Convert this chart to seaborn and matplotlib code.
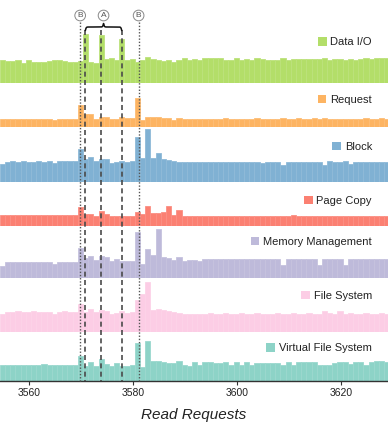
import numpy as np
import pandas as pd
import matplotlib
matplotlib.use("Agg")
import matplotlib.pyplot as plt
from matplotlib.patches import Patch
from matplotlib.colors import to_rgb
import seaborn as sns

# ---------------- data ----------------
series_names = ["Data I/O", "Request", "Block", "Page Copy",
                "Memory Management", "File System", "Virtual File System"]
series_colors = ["#b3de69", "#fdb462", "#80b1d3", "#fb8072",
                 "#bebada", "#fccde5", "#8dd3c7"]

bin_start = 3554.38          # left edge of first bin
n_bins = 75

data_io = [23.3, 22, 22, 23, 20.7, 23, 21, 21, 21, 22, 23.3, 23.3, 22, 21.7, 21.3,
           22.7, 49.3, 21, 20.3, 48.7, 24, 25, 23.7, 44.3, 23.3, 24.3, 21.3, 23.7, 26.3,
           24.7, 23, 22.3, 23.7, 21.7, 23, 25.3, 23.3, 24.3, 23.3,
           25.3, 25, 25.3, 25, 23.3, 23.3, 25, 23.3, 24.7, 23.3, 25.3, 24, 23, 23, 23.3,
           25.3, 23.3, 24, 24.3, 24.7, 24.3, 24, 24.3, 25.3, 23, 24, 24, 23.3, 24.7, 23,
           24, 25, 24.7, 25, 25.3, 25]
request = [7.3, 7.7, 7.7, 7.3, 7.7, 7.7, 7.3, 7.3, 7.7, 8, 7, 8, 7.7, 8, 7.7,
           21.3, 12.3, 12.7, 7.7, 10, 10, 7.7, 7.7, 9.3, 8.3, 8.3, 28.7, 6.7, 9.3, 10,
           9.7, 9, 8.3, 7, 8.3, 8, 7.7, 7.3, 7.7,
           7.7, 8, 7.7, 7.7, 8.3, 7.7, 8, 7.3, 8, 7.7, 8.3, 8, 7.7, 8, 7.7, 8.3, 7.3, 8,
           8.7, 8, 7.7, 8.3, 8, 8.7, 8, 7.7, 7.7, 8, 7.3, 8, 7.7, 8.3, 7.7, 8, 8.3, 7.7]
block = [17.7, 20, 20.3, 20, 20.3, 20, 20, 20.3, 20, 20.3, 18.3, 20.3, 20.7, 20.3, 20.3,
         32.7, 22.7, 24.7, 20.3, 22.7, 22.7, 19, 19.7, 20.3, 19.3, 20.7, 44.3, 24, 52.7,
         24, 28.3, 22.3, 21.7, 20.7, 19.7, 19.3, 20, 19.7, 19.3,
         19.3, 19.7, 19.7, 19.3, 19.7, 19.3, 19.3, 19.7, 19.3, 19.7, 19.3, 19, 19.3, 19.7,
         19.3, 16.7, 19.3, 19.7, 19.3, 19.3, 19.7, 19.3, 19.3, 17, 20.7, 19.3, 19.3, 20.7,
         17.7, 19.3, 19.7, 19.3, 19.7, 19.3, 19.3, 19.3]
page_copy = [10.7, 10.7, 11, 10.7, 11.3, 10.7, 10.7, 11, 10.7, 11, 10.7, 11, 10.7, 10.7, 11,
             19, 11.7, 11.7, 9.7, 15, 11.7, 10, 9.7, 9.7, 9.7, 9.7, 14.3, 12.2, 20, 13.3,
             13.3, 14, 20, 11.2, 16, 10.2, 10, 10, 10,
             10, 10.3, 10, 10, 10.3, 10, 10, 10.3, 10, 10, 10.3, 10, 10, 10.3, 10, 10, 10,
             11.3, 10.3, 10, 10, 10.3, 10, 10, 10.3, 10, 10, 10.3, 10, 10.3, 10, 10, 10.3,
             10, 10, 10.3]
memory = [12, 15.3, 15.3, 15.7, 15.3, 15.7, 15.3, 15.3, 15.7, 15.3, 13.7, 15.3, 15.3, 15.7,
          15.3, 29.3, 20, 21.7, 17.3, 21.7, 20.7, 16.3, 18.3, 16.3, 16.3, 17, 45.7, 13.3,
          28.7, 22.7, 48.7, 20.3, 19.7, 18, 20.7, 16.3, 17.7, 18, 16.3,
          18.3, 18.7, 19, 19, 18.7, 18.3, 18.7, 19, 18.3, 18.7, 19, 18.7, 18.3, 18.7, 18.7,
          12.7, 18.7, 19, 18.7, 18.3, 18.7, 18.7, 13, 19, 18.7, 18.3, 19, 13, 18.7, 18.7,
          19, 18.3, 18.7, 18.7, 19, 18.7]
file_system = [17.3, 20, 20, 20.3, 20, 20, 20.3, 20, 20, 20, 18, 20, 20.3, 20, 20,
               27.3, 20, 23, 19.3, 22, 20.3, 17.3, 19, 20.7, 19, 20, 31.3, 38, 49.3, 21.3,
               23, 22, 20.3, 20, 18.7, 18, 18, 18, 18,
               18, 18.3, 18, 18, 18.3, 18, 18, 18.3, 18, 18, 18.3, 18, 18, 18, 18.3, 17.7,
               18, 18.3, 18, 18, 18.3, 18, 17.7, 21, 18.3, 18, 21, 18, 18.3, 18, 18, 18.3,
               18, 18, 18.3, 18]
vfs = [16, 15.7, 15.7, 15.7, 15.7, 15.7, 15.7, 15.7, 17, 16.3, 15.7, 15.7, 15.7, 15.7, 15.7,
       25, 15, 19, 14.7, 21.7, 17.3, 14.7, 18.3, 15, 15, 15.7, 37.7, 14.3, 40, 19.7, 20,
       18.7, 17.7, 18, 20, 15.7, 15, 18.7, 15.7,
       18.7, 18.7, 18.3, 18.3, 18.7, 15.7, 18.7, 15.7, 18.7, 15.7, 18.3, 18.3, 18.3, 18.3,
       18.3, 15.7, 18.7, 15.7, 18.7, 18.7, 18.7, 18.7, 15.7, 15.7, 15.7, 17.7, 19.3, 19.3,
       17.3, 18.7, 18.7, 15.7, 18.7, 20, 19.7, 19]
series_values = [data_io, request, block, page_copy, memory, file_system, vfs]

x_ticks = [3560, 3580, 3600, 3620]
x_limits = (3554.42, 3629.1)
x_label = "Read Requests"

# event annotations
b_events = [3569.85, 3581.1]
a_events = [3570.85, 3573.85, 3577.85]

# ---------------- layout (pixels) ----------------
W, H = 388, 424
row_baselines = [83.3, 126.7, 181.7, 226.0, 277.7, 331.7, 381.0]
label_y = [42.3, 100.0, 146.7, 200.7, 241.7, 295.7, 348.3]
row_h = 60

sns.set_style("white")
plt.rcParams["font.family"] = ["Liberation Sans", "DejaVu Sans"]

fig = plt.figure(figsize=(W / 100, H / 100), dpi=100)

bin_end = bin_start + n_bins
centers = bin_start + 0.5 + np.arange(n_bins)


def lighten(c, f=0.12):
    r = np.array(to_rgb(c))
    return tuple(r + (1 - r) * f)


for k, (name, col, vals) in enumerate(zip(series_names, series_colors, series_values)):
    assert len(vals) == n_bins, (name, len(vals))
    yb = row_baselines[k]
    ax = fig.add_axes([0, (H - yb) / H, 1, row_h / H])
    ax.patch.set_alpha(0)
    df = pd.DataFrame({"request": centers, "value": vals})
    sns.histplot(data=df, x="request", weights="value", binwidth=1,
                 binrange=(bin_start, bin_end), ax=ax,
                 color=col, alpha=1, edgecolor=lighten(col), linewidth=0.6)
    ax.set_xlim(*x_limits)
    ax.set_ylim(0, row_h)
    ax.set_ylabel("")
    ax.set_yticks([])
    for s in ["left", "right", "top"]:
        ax.spines[s].set_visible(False)
    if k == len(series_names) - 1:
        ax.spines["bottom"].set_visible(True)
        ax.spines["bottom"].set_color("#333333")
        ax.spines["bottom"].set_linewidth(1.0)
        ax.set_xticks(x_ticks)
        ax.tick_params(axis="x", bottom=True, length=3, width=0.8, color="#333333",
                       labelsize=7.5, labelcolor="#222222", pad=2)
        ax.set_xlabel(x_label, fontsize=11, style="italic", color="#222222", labelpad=7)
    else:
        ax.spines["bottom"].set_visible(False)
        ax.set_xticks([])
        ax.set_xlabel("")
    ax.legend(handles=[Patch(facecolor=col, edgecolor="none", label=name)],
              loc="center right", bbox_to_anchor=(372 / W, 1 - label_y[k] / H),
              bbox_transform=fig.transFigure, frameon=False, fontsize=8,
              handlelength=0.8, handleheight=0.8, handletextpad=0.35,
              borderpad=0, borderaxespad=0, labelcolor="#222222")

# ---------------- annotation overlay ----------------
ov = fig.add_axes([0, 0, 1, 1])
ov.set_xlim(*x_limits)
ov.set_ylim(H, 0)
ov.axis("off")
ov.patch.set_alpha(0)

circ = dict(boxstyle="circle,pad=0.22", fc="white", ec="#888888", lw=0.7)
for xv in b_events:
    ov.vlines(xv, 21.5, 381, colors="#555555", linestyles=(0, (1, 1.3)), linewidth=1.0)
    ov.text(xv, 15.5, "B", ha="center", va="center", fontsize=6, color="#555555",
            bbox=circ)
for xv in a_events:
    ov.vlines(xv, 30, 381, colors="#4a4a4a", linestyles=(0, (3, 2)), linewidth=1.2)

# curly brace over the A events
x0, x1 = a_events[0], a_events[-1]
xs = np.linspace(x0, x1, 201)
half = xs[:101]
beta = 12.0
yh = 1 / (1 + np.exp(-beta * (half - half[0]))) + 1 / (1 + np.exp(-beta * (half - half[-1])))
yfull = np.concatenate((yh, yh[-2::-1]))
ybr = 30.5 - (yfull - yfull.min()) / (yfull.max() - yfull.min()) * 7.0
ov.plot(xs, ybr, color="#111111", lw=1.1, solid_capstyle="round")
xa = (x0 + x1) / 2
ov.text(xa, 15.5, "A", ha="center", va="center", fontsize=6, color="#555555",
        bbox=circ)

fig.savefig("out.png", dpi=100)
